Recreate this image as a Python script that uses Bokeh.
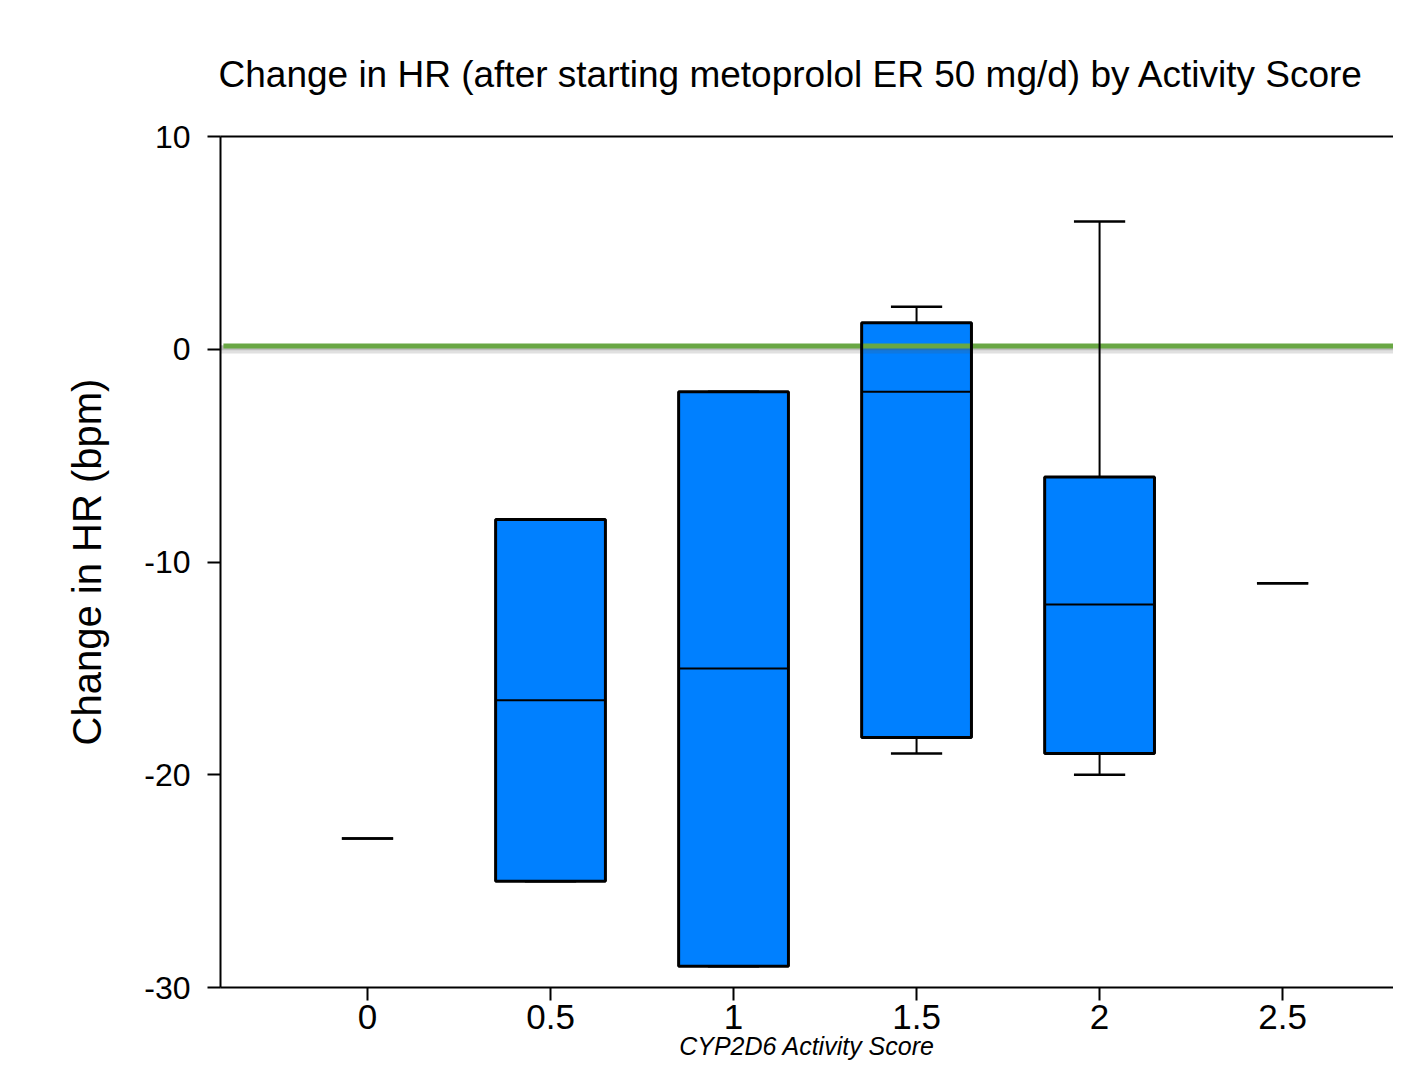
from bokeh.plotting import figure
from bokeh.models import FixedTicker, LinearAxis, Range1d, ColumnDataSource
from bokeh.embed import file_html
from bokeh.resources import INLINE

# ---- data ----
activity_scores = [0, 0.5, 1, 1.5, 2, 2.5]
whisker_low = [-23, -25, -29, -19, -20, -11]
q1 = [-23, -25, -29, -18.25, -19, -11]
median = [-23, -16.5, -15, -2, -12, -11]
q3 = [-23, -8, -2, 1.25, -6, -11]
whisker_high = [-23, -8, -2, 2, 6, -11]
baseline = 0.15

x_ticks = [0, 0.5, 1, 1.5, 2, 2.5]
x_tick_labels = ["0", "0.5", "1", "1.5", "2", "2.5"]
y_ticks = [-30, -20, -10, 0, 10]
y_tick_labels = ["-30", "-20", "-10", "0", "10"]

title_text = "Change in HR (after starting metoprolol ER 50 mg/d) by Activity Score"
x_title = "CYP2D6 Activity Score"
y_title = "Change in HR (bpm)"

FONT = "Liberation Sans"
BOX_W = 0.3
CAP_W = 0.14
X_START, X_END = -0.4016, 2.803

p = figure(width=1393, height=1071, output_backend="svg", toolbar_location=None,
           x_range=Range1d(X_START, X_END), y_range=Range1d(-30, 10),
           min_border_left=220, min_border_right=0, min_border_top=136,
           min_border_bottom=84)
p.outline_line_color = None
p.xgrid.visible = False
p.ygrid.visible = False
p.background_fill_color = "white"

p.title.text = title_text
p.title.text_font = FONT
p.title.text_font_size = "37px"
p.title.text_font_style = "normal"
p.title.text_color = "black"
p.title.align = "left"
p.title.offset = -2
p.title.standoff = 84

# axes
for ax in (p.xaxis[0], p.yaxis[0]):
    ax.axis_line_width = 2
    ax.axis_line_color = "black"
    ax.major_tick_line_width = 2
    ax.major_tick_line_color = "black"
    ax.major_tick_out = 13
    ax.major_tick_in = 0
    ax.minor_tick_line_color = None
    ax.major_label_text_font = FONT
    ax.major_label_text_color = "black"
    ax.axis_label_text_font = FONT
    ax.axis_label_text_color = "black"

p.xaxis.ticker = FixedTicker(ticks=x_ticks)
p.xaxis.major_label_overrides = dict(zip(x_ticks, x_tick_labels))
p.xaxis.major_label_text_font_size = "35px"
p.xaxis.major_label_standoff = 4
p.xaxis.axis_label = x_title
p.xaxis.axis_label_text_font_size = "25px"
p.xaxis.axis_label_text_font_style = "italic"
p.xaxis.axis_label_standoff = 0

p.yaxis.ticker = FixedTicker(ticks=y_ticks)
p.yaxis.major_label_overrides = dict(zip(y_ticks, y_tick_labels))
p.yaxis.major_label_text_font_size = "32px"
p.yaxis.major_label_standoff = 17
p.yaxis.axis_label = y_title
p.yaxis.axis_label_text_font_size = "40px"
p.yaxis.axis_label_text_font_style = "normal"
p.yaxis.axis_label_standoff = 32

# top border line
top = LinearAxis(ticker=FixedTicker(ticks=[]), axis_line_width=2, axis_line_color="black",
                 major_tick_line_color=None, minor_tick_line_color=None)
p.add_layout(top, "above")

# boxes (only where the box has height)
idx = [i for i in range(len(activity_scores)) if q3[i] > q1[i]]
box_src = ColumnDataSource(dict(
    left=[activity_scores[i] - BOX_W / 2 for i in idx],
    right=[activity_scores[i] + BOX_W / 2 for i in idx],
    top=[q3[i] for i in idx],
    bottom=[q1[i] for i in idx],
    med=[median[i] for i in idx],
))
p.quad(left="left", right="right", top="top", bottom="bottom", source=box_src,
       fill_color="#0080ff", line_color=None)

# baseline with soft shadow
p.line([X_START, X_END], [baseline - 0.16, baseline - 0.16], line_color="#555555",
       line_alpha=0.18, line_width=8)
p.line([X_START, X_END], [baseline - 0.08, baseline - 0.08], line_color="#555555",
       line_alpha=0.25, line_width=5)
p.line([X_START + 0.008, X_END], [baseline, baseline], line_color="#69a744", line_width=5)

p.quad(left="left", right="right", top="top", bottom="bottom", source=box_src,
       fill_color=None, line_color="black", line_width=3)
p.segment(x0="left", x1="right", y0="med", y1="med", source=box_src,
          line_color="black", line_width=2)

# whiskers
p.segment(x0=activity_scores, x1=activity_scores, y0=q3, y1=whisker_high,
          line_color="black", line_width=2)
p.segment(x0=activity_scores, x1=activity_scores, y0=q1, y1=whisker_low,
          line_color="black", line_width=2)
p.segment(x0=[a - CAP_W / 2 for a in activity_scores], x1=[a + CAP_W / 2 for a in activity_scores],
          y0=whisker_high, y1=whisker_high, line_color="black", line_width=2.5)
p.segment(x0=[a - CAP_W / 2 for a in activity_scores], x1=[a + CAP_W / 2 for a in activity_scores],
          y0=whisker_low, y1=whisker_low, line_color="black", line_width=2.5)

open("out.html", "w").write(file_html(p, INLINE))
